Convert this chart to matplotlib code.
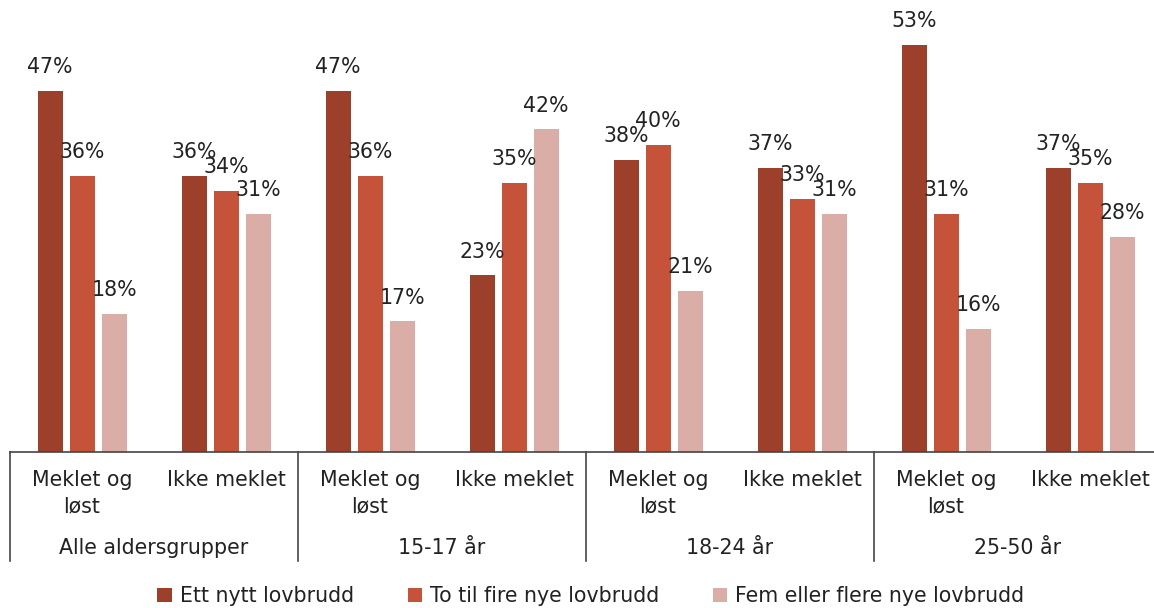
import matplotlib
matplotlib.use("Agg")
import matplotlib.pyplot as plt
from matplotlib.transforms import blended_transform_factory
from matplotlib.lines import Line2D
from matplotlib.patches import Patch
import numpy as np

plt.rcParams['font.family'] = ['DejaVu Sans']

groups = ["Alle aldersgrupper", "15-17 år", "18-24 år", "25-50 år"]
subcats = ["Meklet og\nløst", "Ikke meklet"]
series_names = ["Ett nytt lovbrudd", "To til fire nye lovbrudd", "Fem eller flere nye lovbrudd"]
ett = [47, 36, 47, 23, 38, 37, 53, 37]
to_fire = [36, 34, 36, 35, 40, 33, 31, 35]
fem = [18, 31, 17, 42, 21, 31, 16, 28]
colors = ["#9C402B", "#C4533A", "#DAADA6"]

FS = 14.8
W, H = 1154, 608
fig = plt.figure(figsize=(W / 100, H / 100), dpi=100)
base_px = 452
ax = fig.add_axes([10 / W, (H - base_px) / H, 1152 / W, base_px / H])
ax.set_xlim(-0.5, 7.5)
ax.set_ylim(0, base_px / 7.68)

x = np.arange(8)
bw = 25 / 144
step = 32 / 144
for i, (vals, c) in enumerate(zip([ett, to_fire, fem], colors)):
    xs = x + (i - 1) * step
    ax.bar(xs, vals, width=bw, color=c, edgecolor='none', zorder=2)
    for xi, v in zip(xs, vals):
        ax.text(xi, v + 1.8, f"{v}%", ha='center', va='bottom', fontsize=FS, color='#222222')

for s in ['top', 'right', 'left']:
    ax.spines[s].set_visible(False)
ax.spines['bottom'].set_color('#444444')
ax.spines['bottom'].set_linewidth(1.2)
ax.set_xticks([])
ax.set_yticks([])

tr = blended_transform_factory(ax.transData, fig.transFigure)
def fy(px):
    return 1 - px / H

for k in range(8):
    lab = subcats[k % 2]
    lines = lab.split("\n")
    for j, ln in enumerate(lines):
        ax.text(x[k], fy(480 + 26 * j), ln, transform=tr, ha='center', va='center',
                fontsize=FS, color='#222222', clip_on=False)

for g, name in enumerate(groups):
    ax.text(2 * g + 0.5, fy(548), name, transform=tr, ha='center', va='center',
            fontsize=FS, color='#222222', clip_on=False)
    xsep = 2 * g - 0.5
    ln = Line2D([xsep, xsep], [fy(452), fy(561)], transform=tr, color='#444444',
                linewidth=1.2, clip_on=False)
    fig.add_artist(ln)

handles = [Patch(facecolor=c, edgecolor='none') for c in colors]
fig.legend(handles, series_names, loc='center', bbox_to_anchor=(591 / W, fy(596)),
           ncol=3, frameon=False, fontsize=FS, handlelength=0.7, handleheight=0.7,
           handletextpad=0.4, columnspacing=2.6, labelcolor='#222222')

fig.savefig("out.png", dpi=100)
